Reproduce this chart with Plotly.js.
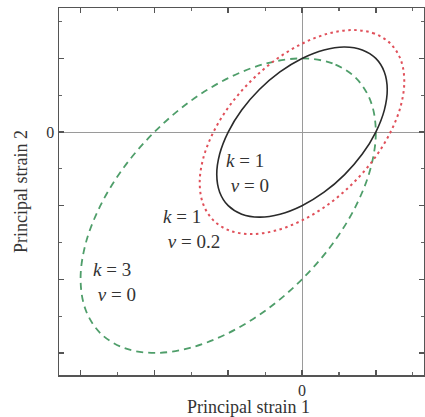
<!DOCTYPE html>
<html>
<head>
<meta charset="utf-8">
<script src="https://cdn.plot.ly/plotly-3.0.1.min.js"></script>
<style>html,body{margin:0;padding:0;background:#fff;}#chart{width:425px;height:417px;}</style>
</head>
<body>
<div id="chart"></div>
<script>
// Curve k=1, nu=0 (solid black), points read around the ellipse
const k1nu0X = [2.0, 1.633, 1.155, 0.597, 0.0, -0.598, -1.155, -1.634, -2.0, -2.231, -2.31, -2.231, -2.0, -1.633, -1.155, -0.597, 0.0, 0.598, 1.155, 1.634, 2.0, 2.231, 2.31, 2.231, 2.0];
const k1nu0Y = [2.0, 2.231, 2.31, 2.231, 2.0, 1.634, 1.155, 0.598, 0.0, -0.597, -1.155, -1.633, -2.0, -2.231, -2.31, -2.231, -2.0, -1.634, -1.155, -0.598, 0.0, 0.597, 1.155, 1.633, 2.0];
// Curve k=1, nu=0.2 (red dotted)
const k1nu02X = [2.4, 1.96, 1.386, 0.716, 0.0, -0.718, -1.386, -1.961, -2.4, -2.677, -2.772, -2.677, -2.4, -1.96, -1.386, -0.716, 0.0, 0.718, 1.386, 1.961, 2.4, 2.677, 2.772, 2.677, 2.4];
const k1nu02Y = [2.4, 2.677, 2.772, 2.677, 2.4, 1.961, 1.386, 0.718, 0.0, -0.716, -1.386, -1.96, -2.4, -2.677, -2.772, -2.677, -2.4, -1.961, -1.386, -0.718, 0.0, 0.716, 1.386, 1.96, 2.4];
// Curve k=3, nu=0 (green dashed)
const k3nu0X = [1.464, 0.828, 0.0, -0.966, -2.0, -3.036, -4.0, -4.83, -5.464, -5.864, -6.0, -5.864, -5.464, -4.828, -4.0, -3.034, -2.0, -0.964, 0.0, 0.83, 1.464, 1.864, 2.0, 1.864, 1.464];
const k3nu0Y = [1.464, 1.864, 2.0, 1.864, 1.464, 0.83, 0.0, -0.964, -2.0, -3.034, -4.0, -4.828, -5.464, -5.864, -6.0, -5.864, -5.464, -4.83, -4.0, -3.036, -2.0, -0.966, 0.0, 0.828, 1.464];

// Tick positions / labels
const majorTicks = [-6, -4, -2, 0, 2];
const majorLabelsX = ['', '', '', '0', ''];
const majorLabelsY = ['', '', '', '0', ''];

// Axis titles
const xTitle = 'Principal strain 1';
const yTitle = 'Principal strain 2';

// Curve labels
const labelText = ['<i>k</i> = 1<br> <i>ν</i> = 0', '<i>k</i> = 1<br> <i>ν</i> = 0.2', '<i>k</i> = 3<br> <i>ν</i> = 0'];
const labelX = [-2.12, -3.82, -5.72];
const labelY = [-1.12, -2.64, -4.08];

const serif = 'Liberation Serif';

const traces = [
  {x: k3nu0X, y: k3nu0Y, mode: 'lines', line: {color: '#4f9e6a', width: 1.8, dash: '7px,5px', shape: 'spline', smoothing: 1}, hoverinfo: 'skip'},
  {x: k1nu02X, y: k1nu02Y, mode: 'lines', line: {color: '#e0505a', width: 2, dash: '2.5px,3.5px', shape: 'spline', smoothing: 1}, hoverinfo: 'skip'},
  {x: k1nu0X, y: k1nu0Y, mode: 'lines', line: {color: '#2a2a2a', width: 1.6, shape: 'spline', smoothing: 1}, hoverinfo: 'skip'}
];

const axisCommon = {
  showgrid: false,
  zeroline: true,
  zerolinecolor: '#9a9a9a',
  zerolinewidth: 1,
  showline: true,
  linecolor: '#555',
  linewidth: 1.5,
  mirror: 'ticks',
  ticks: 'inside',
  ticklen: 5,
  tickwidth: 1.5,
  tickcolor: '#555',
  tickmode: 'array',
  tickvals: majorTicks,
  minor: {tickmode: 'linear', tick0: 0, dtick: 1, ticks: 'inside', ticklen: 3, tickwidth: 1.2, tickcolor: '#666', showgrid: false},
  tickfont: {family: serif, size: 16, color: '#333'},
  fixedrange: true
};

const layout = {
  width: 425,
  height: 417,
  margin: {l: 59, r: 1, t: 8, b: 42},
  paper_bgcolor: '#fff',
  plot_bgcolor: '#fff',
  showlegend: false,
  xaxis: Object.assign({}, axisCommon, {
    range: [-6.585, 3.306],
    ticktext: majorLabelsX
  }),
  yaxis: Object.assign({}, axisCommon, {
    range: [-6.6, 3.37],
    ticktext: majorLabelsY,
    title: {text: yTitle, font: {family: serif, size: 18, color: '#333'}, standoff: 14}
  }),
  annotations: labelText.map((t, i) => ({
    x: labelX[i], y: labelY[i], xref: 'x', yref: 'y', text: t, showarrow: false,
    align: 'left', xanchor: 'left', yanchor: 'middle',
    font: {family: serif, size: 19, color: '#333'}
  })).concat([{
    x: 0.518, y: -0.1172, xref: 'paper', yref: 'paper', text: xTitle, showarrow: false,
    xanchor: 'center', yanchor: 'bottom', borderpad: 0,
    font: {family: serif, size: 18, color: '#333'}
  }])
};

Plotly.newPlot('chart', traces, layout, {displayModeBar: false, staticPlot: true});
</script>
</body>
</html>
